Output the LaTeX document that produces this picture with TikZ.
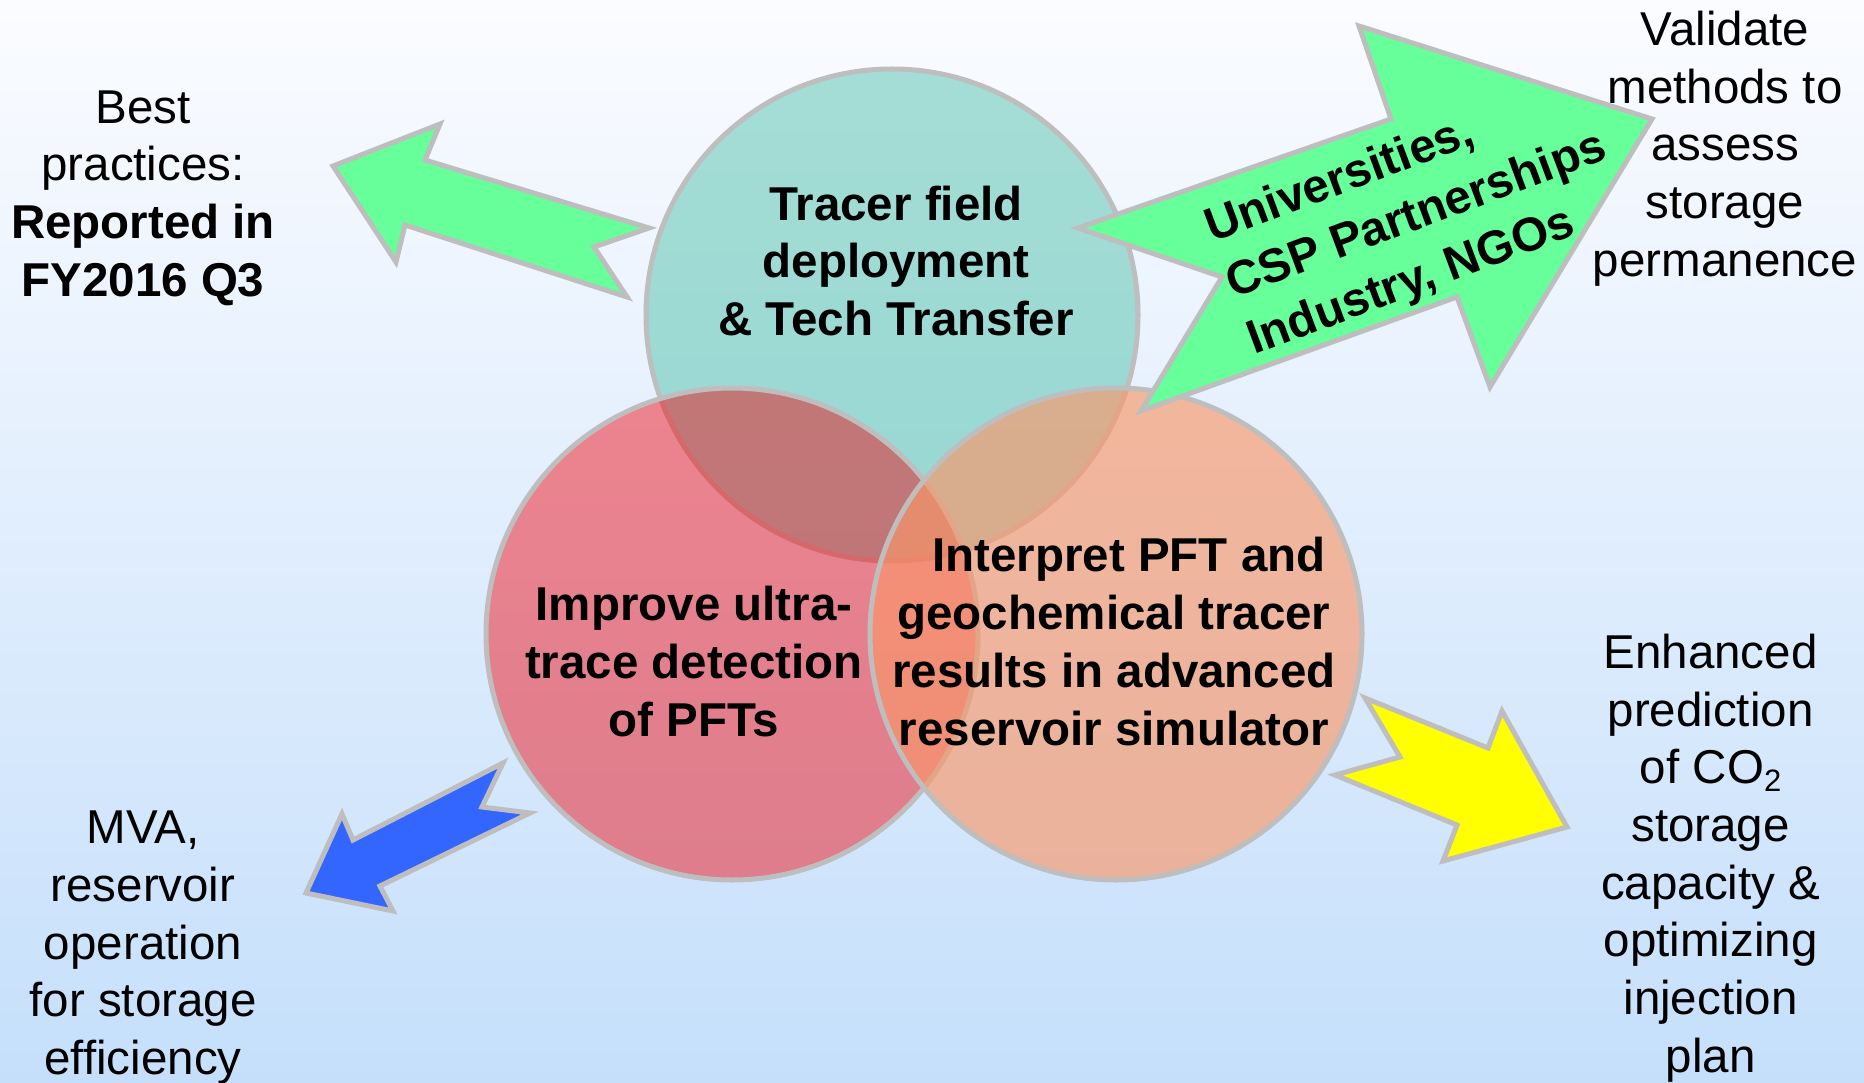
\documentclass[tikz,border=0pt]{standalone}
\usepackage{fontspec}
\setmainfont{Liberation Sans}
\definecolor{bgtop}{RGB}{251,252,255}
\definecolor{bgmid}{RGB}{225,239,254}
\definecolor{bgbot}{RGB}{197,223,251}
\definecolor{edgegray}{RGB}{190,190,190}
\definecolor{tealc}{RGB}{82,194,172}
\definecolor{redc}{RGB}{242,0,7}
\definecolor{orangec}{RGB}{249,151,106}
\definecolor{greenc}{RGB}{102,255,153}
\definecolor{bluec}{RGB}{51,102,255}
\definecolor{yellowc}{RGB}{255,255,0}
\begin{document}
\begin{tikzpicture}[x=1pt,y=-1pt,
  venn/.style={circle, draw=edgegray, line width=5pt, minimum size=492pt, inner sep=0pt},
  blockarrow/.style={draw=edgegray, line width=5pt, line join=miter},
  lbl/.style={font=\fontsize{47.5}{57.7}\selectfont, align=center, inner sep=0pt, text=black},
  blbl/.style={lbl, font=\fontsize{47.5}{57.7}\selectfont\bfseries}]
\useasboundingbox (0,0) rectangle (1864,1083);
\shade[top color=bgtop, middle color=bgmid, bottom color=bgbot] (0,0) rectangle (1864,1083);

% Venn circles
\node[venn, fill=tealc, fill opacity=0.5] (tcirc) at (892,315) {};
\node[venn, fill=redc, fill opacity=0.45] (rcirc) at (732,634) {};
\node[venn, fill=orangec, fill opacity=0.65] (ocirc) at (1116,634) {};

% block arrows
\draw[blockarrow, fill=greenc] (333,166) -- (440,124) -- (425,160) -- (649,228) -- (594,247) -- (627,297) -- (405,225) -- (396,262) -- cycle;
\draw[blockarrow, fill=greenc] (1078,228) -- (1391,119) -- (1359,26) -- (1652,119) -- (1490,387) -- (1457,297) -- (1141,411) -- (1222,277) -- cycle;
\draw[blockarrow, fill=bluec] (306,893) -- (342,814) -- (353,840) -- (503,763) -- (482,807) -- (530,813) -- (380,886) -- (393,911) -- cycle;
\draw[blockarrow, fill=yellowc] (1365,698) -- (1400,757) -- (1335,775) -- (1457,825) -- (1443,861) -- (1567,827) -- (1502,711) -- (1488,748) -- cycle;

% texts in circles
\node[blbl] (ttext) at (896,261) {Tracer field\\deployment\\\& Tech Transfer};
\node[blbl] (rtext) at (694,661.5) {Improve ultra-\\trace detection\\of PFTs};
\node[blbl] (otext) at (1114,641.5) {\hspace*{30pt}Interpret PFT and\\geochemical tracer\\results in advanced\\reservoir simulator};

% text in big arrow
\node[blbl, font=\fontsize{47.5}{60}\selectfont\bfseries, align=left, rotate=20.5] (gtext) at (1417,217) {Universities,\\CSP Partnerships\\Industry, NGOs};

% outside labels
\node[lbl] (best) at (143,198) {Best\\practices:\\\textbf{Reported in}\\\textbf{FY2016 Q3}};
\node[lbl] (valid) at (1725,148.7) {Validate\\methods to\\assess\\storage\\permanence};
\node[lbl] (mva) at (143,947.7) {MVA,\\reservoir\\operation\\for storage\\efficiency};
\node[lbl] (enh) at (1710.6,858) {Enhanced\\prediction\\of CO\raisebox{-8pt}{\fontsize{31}{31}\selectfont 2}\\storage\\capacity \&\\optimizing\\injection\\plan};
\end{tikzpicture}
\end{document}
